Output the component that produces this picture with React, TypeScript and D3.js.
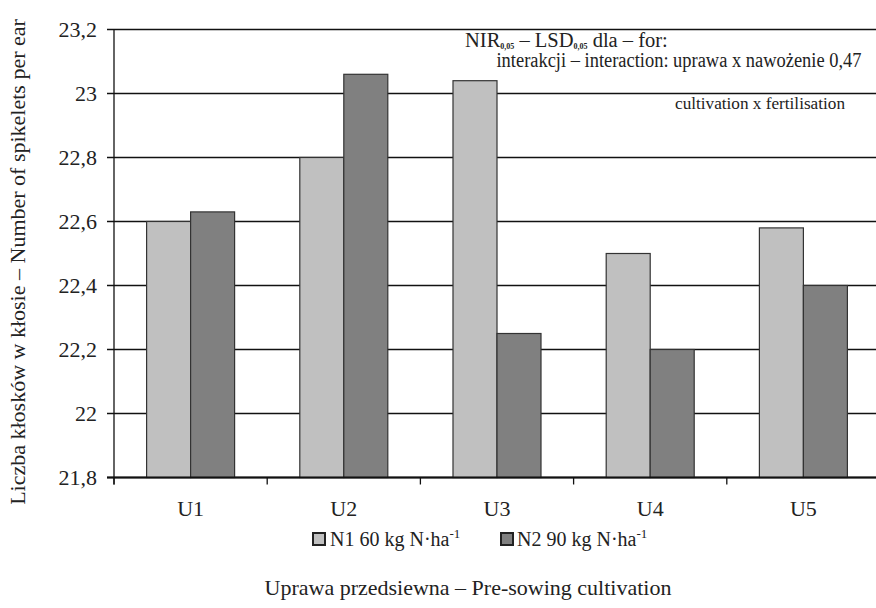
import React from "react";
import * as d3 from "d3";

const categories = ["U1", "U2", "U3", "U4", "U5"];
const n1Values = [22.6, 22.8, 23.04, 22.5, 22.58];
const n2Values = [22.63, 23.06, 22.25, 22.2, 22.4];
const yTicks = [21.8, 22, 22.2, 22.4, 22.6, 22.8, 23, 23.2];
const colors = ["#c0c0c0", "#808080"];

const W = 876, H = 608;
const left = 114, right = 880, top = 29.5, bottom = 477.5;
const font = "'Liberation Serif', 'Times New Roman', serif";

export default function App() {
  const x = d3.scaleBand<string>().domain(categories).range([left, right]);
  const y = d3.scaleLinear().domain([21.8, 23.2]).range([bottom, top]);
  const barW = 44;
  const fmt = (v: number) => String(+v.toFixed(1)).replace(".", ",");
  const data = categories.map((c, i) => ({ c, vals: [n1Values[i], n2Values[i]] }));
  return (
    <svg width={W} height={H} style={{ position: "absolute", left: 0, top: 0, background: "#fff" }} fontFamily={font}>
      <rect x={0} y={0} width={W} height={H} fill="#fff" />
      {yTicks.map((t) => (
        <g key={t}>
          <line x1={107} x2={W} y1={y(t)} y2={y(t)} stroke="#111" strokeWidth={1.3} />
          <text x={97} y={y(t) + 7} textAnchor="end" fontSize={22} fill="#222">{fmt(t)}</text>
        </g>
      ))}
      {data.map((d) =>
        d.vals.map((v, j) => {
          const bx = (x(d.c) as number) + x.bandwidth() / 2 - barW + j * barW;
          return (
            <rect key={d.c + j} x={bx} y={y(v)} width={barW} height={bottom - y(v)}
              fill={colors[j]} stroke="#333" strokeWidth={1.2} />
          );
        })
      )}
      <line x1={left} x2={left} y1={top} y2={bottom + 7} stroke="#111" strokeWidth={1.3} />
      <line x1={107} x2={W} y1={bottom} y2={bottom} stroke="#111" strokeWidth={2} />
      {categories.map((c, i) => (
        <g key={c}>
          <line x1={left + i * x.bandwidth()} x2={left + i * x.bandwidth()} y1={bottom} y2={bottom + 7} stroke="#111" strokeWidth={1.3} />
          <text x={(x(c) as number) + x.bandwidth() / 2} y={516} textAnchor="middle" fontSize={22} fill="#222">{c}</text>
        </g>
      ))}
      {/* legend */}
      <g fontSize={20} fill="#222">
        <rect x={313} y={533} width={12} height={12} fill={colors[0]} stroke="#222" strokeWidth={2} />
        <text x={330} y={546}>N1 60 kg N·ha<tspan dy={-8} fontSize={13}>-1</tspan></text>
        <rect x={501} y={533} width={12} height={12} fill={colors[1]} stroke="#222" strokeWidth={2} />
        <text x={517} y={546}>N2 90 kg N·ha<tspan dy={-8} fontSize={13}>-1</tspan></text>
      </g>
      <text x={468} y={595} textAnchor="middle" fontSize={22} fill="#222">Uprawa przedsiewna – Pre-sowing cultivation</text>
      <text transform={`translate(25, 262) rotate(-90)`} textAnchor="middle" fontSize={22} fill="#222">Liczba kłosków w kłosie – Number of spikelets per ear</text>
      {/* annotation */}
      <g fill="#222">
        <text x={465} y={47} fontSize={20.5}>NIR<tspan fontSize={8} dy={2} fontWeight="bold">0,05</tspan><tspan dy={-2}> – LSD</tspan><tspan fontSize={8} dy={2} fontWeight="bold">0,05</tspan><tspan dy={-2}> dla – for:</tspan></text>
        <text x={496.5} y={67} fontSize={20.5} textLength={365} lengthAdjust="spacingAndGlyphs">interakcji – interaction: uprawa x nawożenie 0,47</text>
        <text x={675} y={109} fontSize={16.5} textLength={170} lengthAdjust="spacingAndGlyphs">cultivation x fertilisation</text>
      </g>
    </svg>
  );
}
